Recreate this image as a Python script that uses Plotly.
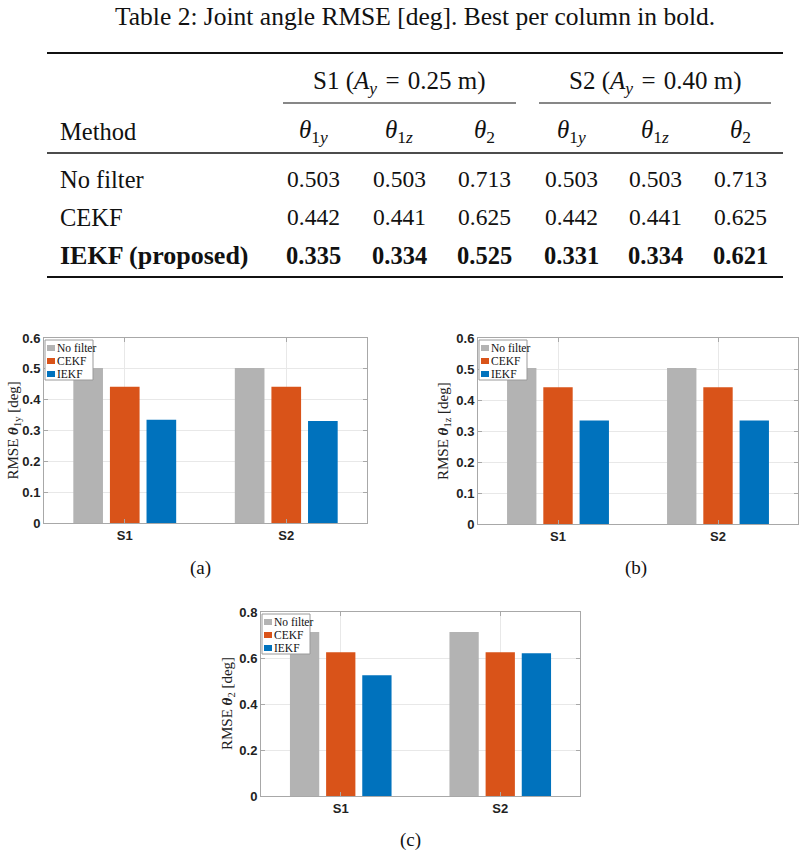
import plotly.graph_objects as go

W, H = 807, 856
def X(px): return px / W
def Y(py): return 1 - py / H

# ---------------- data ----------------
methods = ["No filter", "CEKF", "IEKF (proposed)"]
legend_names = ["No filter", "CEKF", "IEKF"]
scenarios = ["S1", "S2"]
amplitudes = ["0.25", "0.40"]
angle_labels = ["<i>θ</i><sub>1<i>y</i></sub>", "<i>θ</i><sub>1<i>z</i></sub>", "<i>θ</i><sub>2</sub>"]
axis_subs = ["1y", "1z", "2"]
# columns: S1 θ1y, θ1z, θ2, S2 θ1y, θ1z, θ2
nofilter = [0.503, 0.503, 0.713, 0.503, 0.503, 0.713]
cekf = [0.442, 0.441, 0.625, 0.442, 0.441, 0.625]
iekf = [0.335, 0.334, 0.525, 0.331, 0.334, 0.621]
table_rows = [nofilter, cekf, iekf]
y_ranges = [[0, 0.6], [0, 0.6], [0, 0.8]]
y_dticks = [0.1, 0.1, 0.2]
panel_tags = ["(a)", "(b)", "(c)"]

colors = ["#B3B3B3", "#D95319", "#0072BD"]
SERIF = "Liberation Serif, Times New Roman, Times, serif"
SANS = "Liberation Sans, Arial, Helvetica, sans-serif"
TXT = "#111111"

fig = go.Figure()
annotations = []
shapes = []

def note(x, y, text, size, xanchor="center", family=SERIF, color=TXT, angle=0):
    annotations.append(dict(x=X(x), y=Y(y), xref="paper", yref="paper", showarrow=False, text=text,
                            font=dict(family=family, size=size, color=color), textangle=angle,
                            xanchor=xanchor, yanchor="middle"))

# ---------------- table ----------------
note(415, 17, "Table 2: Joint angle RMSE [deg]. Best per column in bold.", 25.5)

def hrule(x0, x1, y, w):
    shapes.append(dict(type="line", xref="paper", yref="paper", x0=X(x0), x1=X(x1), y0=Y(y), y1=Y(y),
                       line=dict(color="#111111", width=w)))

hrule(47, 783, 53, 2.2)
hrule(47, 783, 153, 1.3)
hrule(47, 783, 277, 2.2)
hrule(283, 516, 103, 1.2)
hrule(539, 771, 103, 1.2)

group_cx = [399, 655]
for g in range(2):
    note(group_cx[g], 82,
         f"{scenarios[g]} (<i>A</i><sub><i>y</i></sub>\u2004=\u2004{amplitudes[g]} m)", 25)

col_x = [313, 399, 484, 571, 655, 740]
note(58, 131, "Method", 24.5, xanchor="left")
for c in range(6):
    note(col_x[c], 131, angle_labels[c % 3], 25)

row_y = [179, 217, 255]
col_min = [min(r[c] for r in table_rows) for c in range(6)]
for i, (name, vals) in enumerate(zip(methods, table_rows)):
    best_row = all(vals[c] == col_min[c] for c in range(6))
    if best_row:
        note(58, row_y[i], f"<b>{name}</b>", 26, xanchor="left")
    else:
        note(58, row_y[i], name, 24.5, xanchor="left")
    for c in range(6):
        s = f"{vals[c]:.3f}"
        if vals[c] == col_min[c]:
            note(col_x[c], row_y[i], f"<b>{s}</b>", 24.5)
        else:
            note(col_x[c], row_y[i], s, 23.5)

# ---------------- bar charts ----------------
# plot boxes in pixels: left, right, top, bottom
boxes = [(44, 367, 338, 523), (478, 798, 338, 524), (261, 580, 612, 796)]
tag_pos = [(200, 568), (636, 568), (410, 840)]
ytitle_off = [31, 34, 33]

for k in range(3):
    xa = "x" if k == 0 else f"x{k+1}"
    ya = "y" if k == 0 else f"y{k+1}"
    for m in range(3):
        vals = table_rows[m]
        fig.add_trace(go.Bar(x=scenarios, y=[vals[k], vals[k + 3]], name=legend_names[m],
                             marker=dict(color=colors[m], line=dict(width=0)),
                             xaxis=xa, yaxis=ya, showlegend=False))
    l, r, t, b = boxes[k]
    axkey = "xaxis" if k == 0 else f"xaxis{k+1}"
    aykey = "yaxis" if k == 0 else f"yaxis{k+1}"
    fig.layout[axkey] = dict(domain=[X(l), X(r)], anchor=ya,
                             type="category", showgrid=True, gridcolor="#E8E8E8", gridwidth=1,
                             showline=True, linecolor="#A8A8A8", linewidth=1, mirror="ticks",
                             ticks="inside", ticklen=4, tickcolor="#A8A8A8",
                             tickfont=dict(family=SANS, size=13, color="#222222", weight="bold"),
                             automargin=False, fixedrange=True)
    fig.layout[aykey] = dict(domain=[Y(b), Y(t)], anchor=xa, range=y_ranges[k], dtick=y_dticks[k],
                             showgrid=True, gridcolor="#E8E8E8", gridwidth=1, zeroline=False,
                             showline=True, linecolor="#A8A8A8", linewidth=1, mirror="ticks",
                             ticks="inside", ticklen=4, tickcolor="#A8A8A8",
                             tickfont=dict(family=SANS, size=13, color="#222222", weight="bold"),
                             automargin=False, fixedrange=True)
    # y-axis title as rotated text
    note(l - ytitle_off[k], (t + b) / 2,
         f"RMSE <b><i>θ</i></b><sub>{axis_subs[k]}</sub> [deg]", 15, color="#222222", angle=-90)

    # manual compact legend (MATLAB style)
    lx0, ly0 = l + 1, t + 2
    shapes.append(dict(type="rect", xref="paper", yref="paper", x0=X(lx0), x1=X(lx0 + 48),
                       y0=Y(ly0), y1=Y(ly0 + 40), fillcolor="white", line=dict(color="#9A9A9A", width=1),
                       layer="above"))
    for m in range(3):
        cy = ly0 + 8 + 13 * m
        shapes.append(dict(type="rect", xref="paper", yref="paper", x0=X(lx0 + 2), x1=X(lx0 + 10),
                           y0=Y(cy + 3), y1=Y(cy - 3), fillcolor=colors[m], line=dict(width=0),
                           layer="above"))
        note(lx0 + 10, cy, legend_names[m], 11.5, xanchor="left")

    tx, ty = tag_pos[k]
    note(tx, ty, panel_tags[k], 19)

fig.update_layout(width=W, height=H, margin=dict(l=0, r=0, t=0, b=0),
                  paper_bgcolor="white", plot_bgcolor="white",
                  barmode="group", bargap=0.32, bargroupgap=0.19,
                  annotations=annotations, shapes=shapes, showlegend=False)
fig.write_html("out.html")
